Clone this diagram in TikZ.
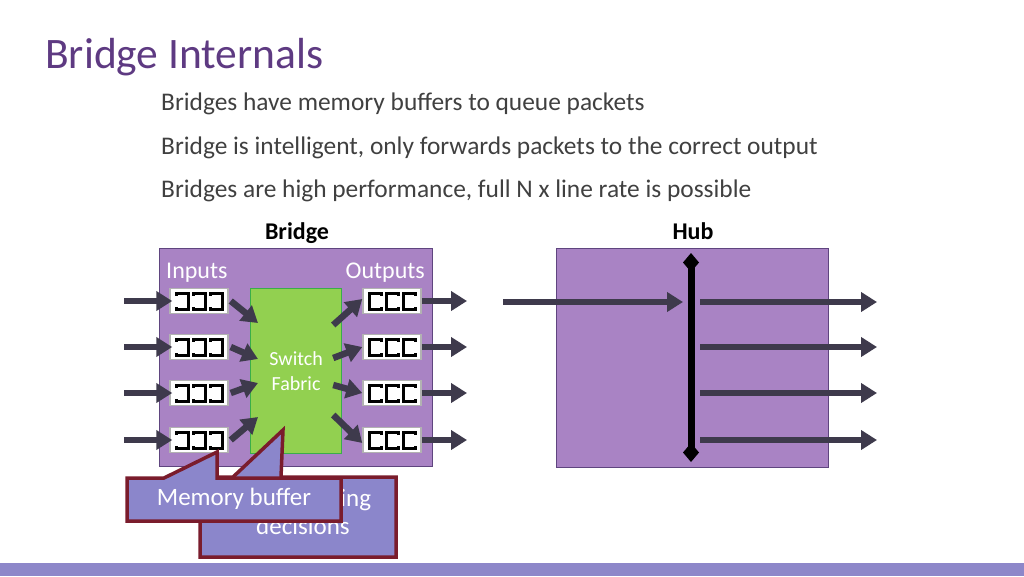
\documentclass[tikz,border=0pt]{standalone}
\usepackage{fontspec}
\setmainfont{Carlito}
\usetikzlibrary{arrows.meta,calc}

\definecolor{titlepurple}{HTML}{5E3A82}
\definecolor{textgray}{HTML}{404040}
\definecolor{boxpurple}{HTML}{A983C4}
\definecolor{boxedge}{HTML}{5F457F}
\definecolor{fabricgreen}{HTML}{92D050}
\definecolor{fabricedge}{HTML}{3AAE49}
\definecolor{arrowgray}{HTML}{3E3A4C}
\definecolor{calloutblue}{HTML}{8B86CB}
\definecolor{calloutedge}{HTML}{7A1C2C}
\definecolor{barblue}{HTML}{8D87C9}

\tikzset{
	pkt/.style={line width=6.5pt, arrowgray, -{Triangle[length=16pt,width=19pt]}},
	unit/.style={draw=boxedge, fill=boxpurple, line width=1pt},
	buf/.style={draw=gray!60, fill=white, line width=1.5pt, minimum width=58pt, minimum height=25pt, inner sep=0pt},
	glyph/.style={black, line width=3pt},
	callout/.style={draw=calloutedge, fill=calloutblue, line width=3.5pt},
	calltext/.style={text=white, font=\fontsize{25}{28}\selectfont, inner sep=0pt},
	bullet/.style={textgray, anchor=base west, inner sep=0pt, font=\fontsize{25.4}{30}\selectfont},
	head/.style={anchor=base, inner sep=0pt, font=\fontsize{24}{28}\selectfont\bfseries}
}

\begin{document}
\begin{tikzpicture}[x=1pt, y=-1pt]
		\useasboundingbox (0,0) rectangle (1024,576);
		\fill[barblue] (0,563) rectangle (1024,576);

		% heading and text
		\node[anchor=base west, inner sep=0pt, titlepurple, font=\fontsize{43.5}{50}\selectfont] (title) at (45,68) {Bridge Internals};
		\node[bullet] (b1) at (161,110) {Bridges have memory buffers to queue packets};
		\node[bullet] (b2) at (161,154) {Bridge is intelligent, only forwards packets to the correct output};
		\node[bullet] (b3) at (161,197) {Bridges are high performance, full N x line rate is possible};
		\node[head] (bridgelbl) at (297,239) {Bridge};
		\node[head] (hublbl) at (693,239) {Hub};

		% bridge
		\node[unit, minimum width=273pt, minimum height=218pt, anchor=north west] (bridge) at (159,248) {};
		\node[text=white, anchor=base west, inner sep=0pt, font=\fontsize{24}{28}\selectfont] (inlbl) at (166,278) {Inputs};
		\node[text=white, anchor=base east, inner sep=0pt, font=\fontsize{24}{28}\selectfont] (outlbl) at (425,278) {Outputs};
		\node[draw=fabricedge, fill=fabricgreen, line width=1.2pt, minimum width=91pt, minimum height=165pt,
			anchor=north west, text=white, align=center, font=\fontsize{20}{25}\selectfont] (fabric) at (250,288) {Switch\\Fabric};

		\foreach \i/\y/\ti/\fo/\to in {1/301/323/325/303, 2/347/359/358/347, 3/393/383/385/393, 4/440/417/415/437} {
			\node[buf] (in\i) at (199,\y) {};
			\node[buf] (out\i) at (392,\y) {};
			\foreach \k in {-17,0,17} {
				\draw[glyph] ([shift={(\k-6,-5.5)}]in\i.center) -- ++(0,-2.5) -- ++(12,0) -- ++(0,16) -- ++(-12,0) -- ++(0,-2.5);
				\draw[glyph] ([shift={(\k+6,-5.5)}]out\i.center) -- ++(0,-2.5) -- ++(-12,0) -- ++(0,16) -- ++(12,0) -- ++(0,-2.5);
			}
			\coordinate (src\i) at (124,\y);
			\coordinate (dst\i) at (467,\y);
			\draw[pkt] (src\i) -- ([xshift=3pt]in\i.west);
			\draw[pkt] (out\i.east) -- (dst\i);
			\draw[pkt] ([xshift=2pt]in\i.east) -- ($(fabric.west |- 0,\ti)+(8,0)$);
			\draw[pkt] ($(fabric.east |- 0,\fo)+(-9,0)$) -- ([yshift=\to-\y]out\i.west);
		}

		% hub
		\node[unit, minimum width=272pt, minimum height=219pt, anchor=north west] (hub) at (556,248) {};
		\coordinate (hubtop) at (691,253);
		\coordinate (hubbot) at (691,462);
		\draw[black, line width=7pt, {Diamond[length=19pt,width=16pt]}-{Diamond[length=19pt,width=16pt]}] (hubtop) -- (hubbot);
		\coordinate (hubsrc) at (503,302);
		\draw[pkt] (hubsrc) -- ($(hubtop |- hubsrc)+(-8,0)$);
		\foreach \y in {302,347,393,440} {
			\draw[pkt] ($(hubtop |- 0,\y)+(9,0)$) -- (877,\y);
		}

		% callouts
		\draw[callout] (200,477) -- (233,477) -- (283,430) -- (281,477) -- (396,477) -- (396,557) -- (200,557) -- cycle;
		\node[calltext, align=left, anchor=north west] (fwd) at (256,489) {Forwarding\\decisions};
		\draw[callout] (127,478) -- (164,478) -- (217,452) -- (217,478) -- (341,478) -- (341,521) -- (127,521) -- cycle;
		\node[calltext] (mem) at (234,499) {Memory buffer};
\end{tikzpicture}
\end{document}
